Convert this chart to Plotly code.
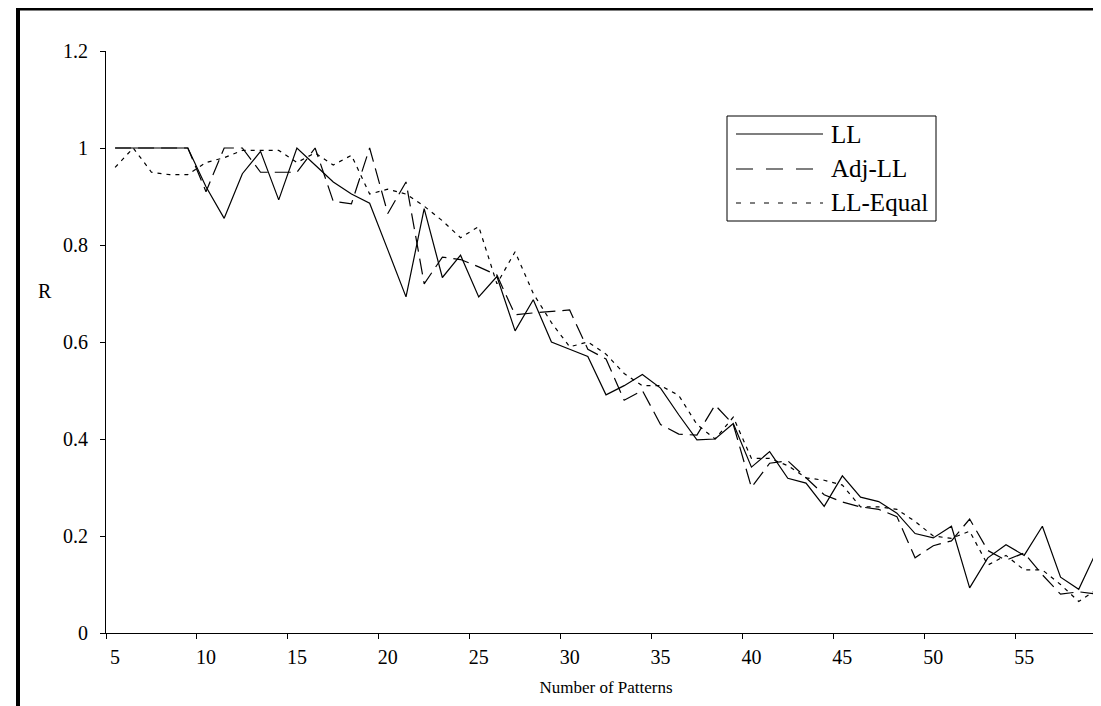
import plotly.graph_objects as go

# ---------------- data ----------------
patterns = list(range(5, 60))

ll = [1.0, 1.0, 1.0, 1.0, 1.0, 0.92, 0.855, 0.947, 0.993, 0.893,
      1.0, 0.965, 0.93, 0.905, 0.886, 0.79, 0.693, 0.875, 0.733, 0.779,
      0.693, 0.735, 0.623, 0.687, 0.60, 0.585, 0.57, 0.491, 0.51, 0.533,
      0.505, 0.45, 0.398, 0.40, 0.432, 0.342, 0.374, 0.319, 0.309, 0.261,
      0.324, 0.28, 0.271, 0.247, 0.205, 0.196, 0.22, 0.093, 0.155, 0.182,
      0.16, 0.22, 0.115, 0.09, 0.17]

adj_ll = [1.0, 1.0, 1.0, 1.0, 1.0, 0.91, 1.0, 1.0, 0.95, 0.95,
          0.95, 1.0, 0.89, 0.885, 1.0, 0.865, 0.93, 0.72, 0.775, 0.77,
          0.755, 0.738, 0.656, 0.66, 0.663, 0.666, 0.585, 0.565, 0.48, 0.50,
          0.43, 0.41, 0.408, 0.47, 0.43, 0.30, 0.35, 0.355, 0.32, 0.285,
          0.27, 0.26, 0.255, 0.24, 0.155, 0.18, 0.19, 0.235, 0.17, 0.15,
          0.165, 0.12, 0.08, 0.085, 0.08]

ll_equal = [0.96, 1.0, 0.95, 0.945, 0.945, 0.97, 0.98, 0.995, 0.995, 0.995,
            0.97, 0.99, 0.965, 0.985, 0.905, 0.915, 0.905, 0.88, 0.85, 0.815,
            0.838, 0.72, 0.786, 0.70, 0.64, 0.59, 0.60, 0.575, 0.535, 0.51,
            0.51, 0.49, 0.43, 0.40, 0.445, 0.36, 0.36, 0.345, 0.32, 0.315,
            0.305, 0.26, 0.26, 0.255, 0.23, 0.20, 0.195, 0.21, 0.14, 0.16,
            0.13, 0.13, 0.10, 0.065, 0.09]

x_tick_labels = [5, 10, 15, 20, 25, 30, 35, 40, 45, 50, 55]
y_tick_values = [0, 0.2, 0.4, 0.6, 0.8, 1.0, 1.2]
y_tick_text = ["0", "0.2", "0.4", "0.6", "0.8", "1", "1.2"]
series_names = ["LL", "Adj-LL", "LL-Equal"]

# ---------------- style ----------------
FONT = "Liberation Serif, Times New Roman, serif"
W, H = 1101, 706
ML, MR, MT, MB = 98, 3, 43, 81
dashes = ["solid", "16px,7px", "4px,5px"]
legend_dashes = ["solid", "17px,13px", "5px,9px"]

fig = go.Figure()
for name, vals, d in zip(series_names, [ll, adj_ll, ll_equal], dashes):
    fig.add_trace(go.Scatter(x=patterns, y=vals, mode="lines", name=name,
                             line=dict(color="black", width=1.2, dash=d),
                             showlegend=False))

xr = [patterns[0] - 0.5, patterns[-1] + 0.5]
boundaries = [v - 0.5 for v in x_tick_labels]

fig.update_layout(
    width=W, height=H,
    margin=dict(l=ML, r=MR, t=MT, b=MB),
    paper_bgcolor="white", plot_bgcolor="white",
    font=dict(family=FONT, color="black", size=20),
    xaxis=dict(range=xr, tickmode="array", tickvals=x_tick_labels,
               ticktext=[str(v) for v in x_tick_labels],
               ticks="", showgrid=False, zeroline=False,
               showline=True, linecolor="black", linewidth=1,
               tickfont=dict(family=FONT, size=20), ticklabelstandoff=6,
               title=dict(text="Number of Patterns",
                          font=dict(family=FONT, size=17), standoff=14)),
    xaxis2=dict(range=xr, overlaying="x", side="bottom", tickmode="array",
                tickvals=boundaries, ticks="outside", ticklen=5,
                tickcolor="black", showticklabels=False, showgrid=False,
                zeroline=False, showline=False),
    yaxis=dict(range=[0, 1.2], tickmode="array", tickvals=y_tick_values,
               ticktext=y_tick_text,
               ticks="outside", ticklen=5, tickcolor="black",
               showgrid=False, zeroline=False, showline=True,
               linecolor="black", linewidth=1,
               tickfont=dict(family=FONT, size=20), ticklabelstandoff=8),
)
# invisible trace to activate xaxis2 tick marks (category boundaries)
fig.add_trace(go.Scatter(x=[patterns[0]], y=[None], xaxis="x2",
                         showlegend=False, hoverinfo="skip"))

pw, ph = W - ML - MR, H - MT - MB
def px(x):
    return (x - ML) / pw
def py(y):
    return (H - MB - y) / ph

# y-axis title "R" (horizontal)
fig.add_annotation(text="R", xref="paper", yref="paper",
                   x=px(37), y=py(283),
                   showarrow=False, font=dict(family=FONT, size=20),
                   xanchor="center", yanchor="middle")

# manual legend (box, sample lines, labels)
fig.add_shape(type="rect", xref="paper", yref="paper",
              x0=px(719), x1=px(928), y0=py(213), y1=py(108),
              line=dict(color="black", width=1), fillcolor="white")
rows = [126, 161, 195]
for name, d, ry in zip(series_names, legend_dashes, rows):
    fig.add_shape(type="line", xref="paper", yref="paper",
                  x0=px(728), x1=px(815), y0=py(ry), y1=py(ry),
                  line=dict(color="black", width=1.2, dash=d))
    fig.add_annotation(text=name, xref="paper", yref="paper",
                       x=px(821), y=py(ry), xanchor="left", yanchor="middle",
                       showarrow=False, font=dict(family=FONT, size=25))

# outer chart border (thick, left and top)
fig.add_shape(type="line", xref="paper", yref="paper",
              x0=px(10), x1=px(10), y0=py(H + 5), y1=py(0),
              line=dict(color="black", width=4))
fig.add_shape(type="line", xref="paper", yref="paper",
              x0=px(8), x1=px(W + 5), y0=py(1), y1=py(1),
              line=dict(color="black", width=3))

fig.write_html("out.html")
